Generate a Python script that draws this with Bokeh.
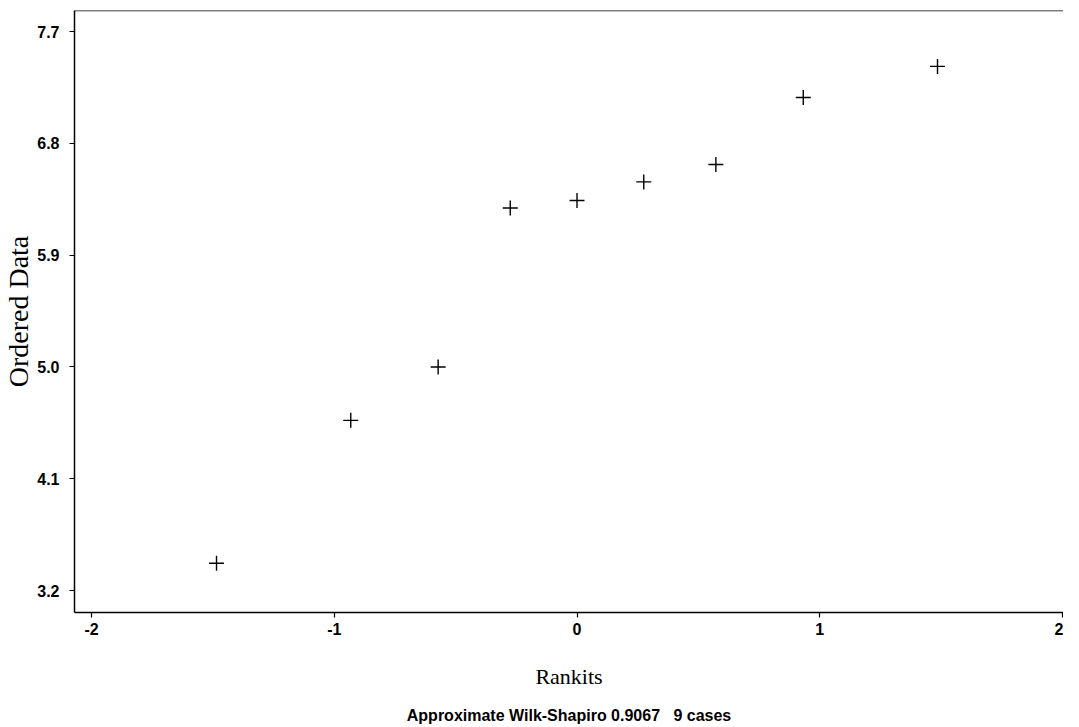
from bokeh.plotting import figure
from bokeh.models import Span, Title, FixedTicker, Range1d
from bokeh.embed import file_html
from bokeh.resources import INLINE

rankits = [-1.485, -0.932, -0.572, -0.275, 0.0, 0.275, 0.572, 0.932, 1.485]
ordered = [3.42, 4.57, 5.00, 6.28, 6.34, 6.49, 6.63, 7.17, 7.42]
x_ticks = [-2, -1, 0, 1, 2]
x_tick_labels = ["-2", "-1", "0", "1", "2"]
y_ticks = [3.2, 4.1, 5.0, 5.9, 6.8, 7.7]
y_tick_labels = ["3.2", "4.1", "5.0", "5.9", "6.8", "7.7"]
footnote = "Approximate Wilk-Shapiro 0.9067\u00a0\u00a0\u00a09 cases"

Y0, Y1 = 3.023, 7.87
p = figure(width=1063, height=737, output_backend="svg", toolbar_location=None,
           x_range=Range1d(-2.07, 2.004), y_range=Range1d(Y0, Y1),
           min_border_left=70, min_border_right=0, min_border_top=10, min_border_bottom=113)
p.xgrid.visible = False
p.ygrid.visible = False
p.outline_line_color = None
p.background_fill_color = "white"

p.scatter(rankits, ordered, marker="cross", size=15, line_color="black", line_width=1.4)

p.add_layout(Span(location=Y1, dimension="width", line_color="black", line_width=1.5))

for ax in (p.xaxis[0], p.yaxis[0]):
    ax.axis_line_width = 1.5
    ax.axis_line_color = "black"
    ax.major_tick_line_color = "black"
    ax.major_tick_line_width = 1.2
    ax.major_tick_in = 0
    ax.major_tick_out = 5
    ax.minor_tick_line_color = None
    ax.major_label_text_font = "Liberation Sans"
    ax.major_label_text_font_style = "bold"
    ax.major_label_text_font_size = "16px"
    ax.major_label_text_color = "black"
    ax.axis_label_text_font = "Liberation Serif"
    ax.axis_label_text_font_style = "normal"
    ax.axis_label_text_color = "black"

p.xaxis[0].ticker = FixedTicker(ticks=x_ticks)
p.yaxis[0].ticker = FixedTicker(ticks=y_ticks)
p.xaxis[0].major_label_overrides = dict(zip(x_ticks, x_tick_labels))
p.yaxis[0].major_label_overrides = dict(zip(y_ticks, y_tick_labels))
p.xaxis[0].axis_label = "Rankits"
p.yaxis[0].axis_label = "Ordered Data"
p.xaxis[0].axis_label_text_font_size = "22px"
p.yaxis[0].axis_label_text_font_size = "28px"
p.xaxis[0].major_label_standoff = 5
p.yaxis[0].major_label_standoff = 10
p.xaxis[0].axis_label_standoff = 26
p.yaxis[0].axis_label_standoff = 0

p.add_layout(Title(text=footnote, align="center", text_font="Liberation Sans",
                   text_font_size="16px", text_font_style="bold", text_color="black",
                   standoff=27), "below")

open("out.html", "w").write(file_html(p, INLINE))
